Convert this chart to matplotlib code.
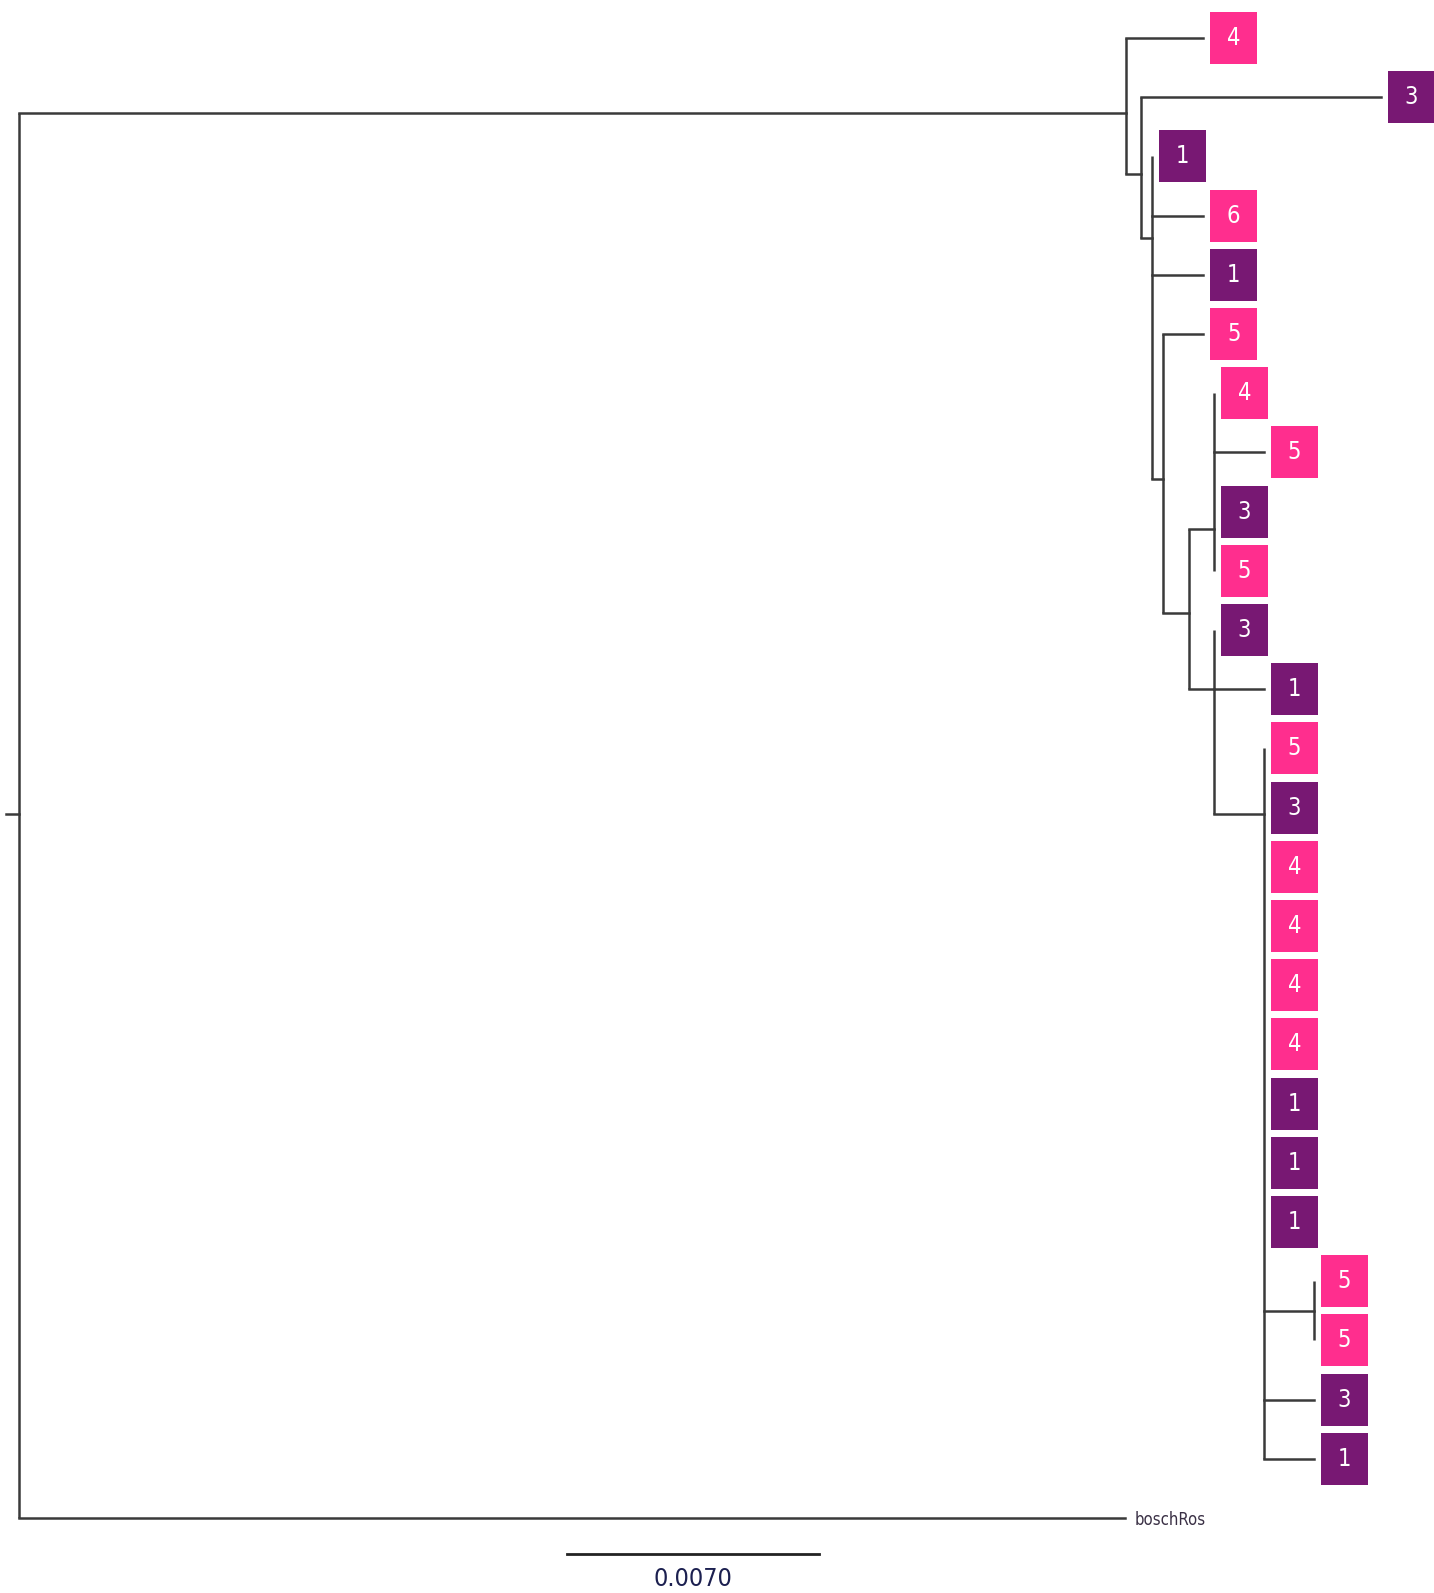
import matplotlib
matplotlib.use("Agg")
import matplotlib.pyplot as plt
import matplotlib.patches as mpatches

# internal nodes: name, parent, distance from root, row (vertical position in tip units)
node_id = ['root', 'A', 'B', 'C', 'D', 'E', 'F', 'G', 'H', 'I']
node_parent = [None, 'root', 'A', 'B', 'C', 'D', 'E', 'E', 'G', 'H']
node_dist = [0.0, 0.03074, 0.03115, 0.03146, 0.03176, 0.03249, 0.03318, 0.03318, 0.03457, 0.03596]
node_row = [13.1, 1.27, 2.3, 3.38, 7.45, 9.71, 8.29, 11.0, 13.1, 21.5]

# tips, top to bottom
tip_label = ['4', '3', '1', '6', '1', '5', '4', '5', '3', '5', '3', '1', '5',
             '3', '4', '4', '4', '4', '1', '1', '1', '5', '5', '3', '1', 'boschRos']
tip_parent = ['A', 'B', 'C', 'C', 'C', 'D', 'F', 'F', 'F', 'F', 'G', 'G', 'H',
              'H', 'H', 'H', 'H', 'H', 'H', 'H', 'H', 'I', 'I', 'H', 'H', 'root']
tip_dist = [0.03288, 0.03782, 0.03146, 0.03288, 0.03288, 0.03288, 0.03318, 0.03457,
            0.03318, 0.03318, 0.03318, 0.03457, 0.03457, 0.03457, 0.03457, 0.03457,
            0.03457, 0.03457, 0.03457, 0.03457, 0.03457, 0.03596, 0.03596, 0.03596,
            0.03596, 0.03071]

scale_len = 0.0070
scale_label = '0.0070'

pink = '#ff2e8e'
purple = '#781873'
group_colors = {'1': purple, '3': purple, '4': pink, '5': pink, '6': pink}
line_col = '#3a3a3a'
narrow = ['Liberation Sans Narrow', 'DejaVu Sans']

W, H = 1434, 1593
px_per_unit = 36000.0
row_px = 59.2
x0_px, y0_px = 19.5, 38.0

fig = plt.figure(figsize=(W / 100, H / 100), dpi=100)
ax = fig.add_axes([0, 0, 1, 1])
ax.set_xlim(-x0_px / px_per_unit, (W - x0_px) / px_per_unit)
ax.set_ylim((H - y0_px) / row_px, -y0_px / row_px)
ax.axis('off')

nd = {n: (d, r) for n, d, r in zip(node_id, node_dist, node_row)}
lw = 1.8

# vertical span of each internal node
span = {n: [r, r] for n, r in zip(node_id, node_row)}
for n, p in zip(node_id, node_parent):
    if p is not None:
        span[p][0] = min(span[p][0], nd[n][1])
        span[p][1] = max(span[p][1], nd[n][1])
for i, p in enumerate(tip_parent):
    span[p][0] = min(span[p][0], i)
    span[p][1] = max(span[p][1], i)

for n in node_id:
    d = nd[n][0]
    ax.plot([d, d], span[n], color=line_col, lw=lw, solid_capstyle='butt')

# horizontal branches
for n, p in zip(node_id, node_parent):
    if p is not None:
        ax.plot([nd[p][0], nd[n][0]], [nd[n][1], nd[n][1]], color=line_col, lw=lw)
for i, (p, d) in enumerate(zip(tip_parent, tip_dist)):
    if d > nd[p][0]:
        ax.plot([nd[p][0], d], [i, i], color=line_col, lw=lw)

# root stub
ax.plot([-14 / px_per_unit, 0], [nd['root'][1]] * 2, color=line_col, lw=lw)

# tip labels
box_w = 47 / px_per_unit
box_h = 52 / row_px
gap = 7 / px_per_unit
for i, (lab, d) in enumerate(zip(tip_label, tip_dist)):
    if lab in group_colors:
        ax.add_patch(mpatches.Rectangle((d + gap, i - box_h / 2), box_w, box_h,
                                        facecolor=group_colors[lab], edgecolor='none'))
        ax.text(d + gap + box_w / 2, i, lab, color='white', fontsize=17,
                family=narrow, fontstretch='condensed',
                ha='center', va='center')
    else:
        ax.text(d + 10 / px_per_unit, i + 0.03, lab, color='#3a3045', fontsize=12,
                family=narrow, fontstretch='condensed',
                ha='left', va='center')

# scale bar
sb_x = (567 - x0_px) / px_per_unit
sb_y = (1554 - y0_px) / row_px
ax.plot([sb_x, sb_x + scale_len], [sb_y, sb_y], color='#222222', lw=2)
ax.text(sb_x + scale_len / 2, (1579 - y0_px) / row_px, scale_label,
        color='#1c2050', fontsize=18, family=narrow, fontstretch='condensed',
        ha='center', va='center')

fig.savefig('out.png', dpi=100, facecolor='white')
